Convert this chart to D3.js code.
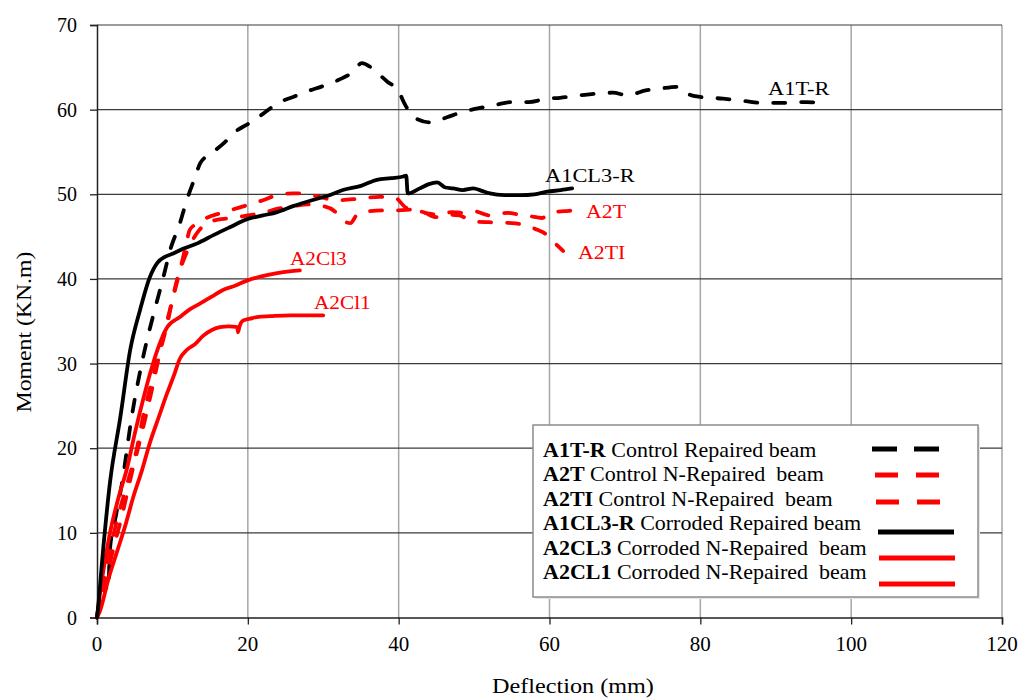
<!DOCTYPE html>
<html>
<head>
<meta charset="utf-8">
<script src="https://cdn.jsdelivr.net/npm/d3@7"></script>
<style>
  body { margin: 0; background: #fff; }
  svg { display: block; font-family: "Liberation Serif", "Times New Roman", serif; }
</style>
</head>
<body>
<svg id="chart" width="1019" height="699"></svg>
<script>
// data
const a1tr_x = [0, 0.5, 0.8, 1.5, 1.7, 2.5, 3.3, 4.6, 6.1, 7.4, 8.8, 9.7, 11, 11.9, 13, 13.7, 15.3, 17, 18.5, 20, 22, 24, 26, 28, 30, 32, 34, 35.1, 36.3, 37.1, 38.5, 39.9, 40.9, 42.2, 44.2, 46.4, 48.4, 50.8, 52.5, 55.2, 57.2, 59.7, 61.4, 64.1, 68.4, 70.3, 72.9, 74.7, 77.1, 78.5, 80, 83, 86, 88, 91, 94, 96];
const a1tr_y = [0, 3, 4, 3.2, 7.9, 12, 15.8, 23.7, 30.7, 35.5, 40.2, 43.4, 46.6, 49.3, 52, 53.7, 54.9, 56.2, 57.5, 58.3, 59.5, 60.8, 61.5, 62.2, 62.8, 63.5, 64.5, 65.5, 65, 64.4, 63.3, 62.3, 60.5, 59.0, 58.5, 59.1, 59.7, 60.2, 60.5, 60.9, 60.9, 61.3, 61.4, 61.7, 62.0, 61.7, 62.3, 62.5, 62.7, 61.8, 61.5, 61.3, 61.0, 60.8, 60.8, 60.9, 60.8];

const a2t_x = [0, 0.6, 1.7, 2.8, 4, 5.3, 6.1, 7, 8, 9, 10, 11, 11.8, 12.3, 13.2, 14.5, 16.5, 18, 19.9, 22, 23.9, 26, 27.3, 29, 31.8, 34.9, 37.5, 39.5, 41, 42.5, 44, 45.5, 47, 48.5, 50, 52, 54.4, 56, 57.5, 59, 59.7, 60.5, 62, 63.7, 64.5];
const a2t_y = [0, 3, 7.9, 12, 15.8, 20, 23.7, 27, 30.5, 34, 37.5, 41, 44, 45.8, 46.5, 47.2, 47.8, 48.2, 48.7, 49.3, 49.9, 50.1, 50.1, 49.8, 49.3, 49.5, 49.7, 49.6, 48.4, 48.1, 47.7, 47.6, 47.9, 47.8, 48.0, 47.5, 47.8, 47.6, 47.4, 47.2, 47.5, 47.9, 48.0, 48.1, 48.1];

const a2ti_x = [0, 0.8, 2, 3.3, 4.6, 6, 7.3, 8.4, 9.4, 10.1, 10.8, 11.6, 12.5, 13.5, 14.6, 16, 18, 20, 22, 24, 26, 28, 30, 31.5, 32.5, 33.6, 34.5, 36, 38, 40, 42, 43.5, 45, 46.5, 48, 50, 52, 55, 57, 58.4, 59.5, 60.3, 61.1, 61.8];
const a2ti_y = [0, 3, 7.5, 12, 17, 22, 27, 31.5, 35, 38, 40.5, 42.5, 44.3, 45.7, 46.6, 47, 47.2, 47.5, 47.8, 48.3, 48.6, 48.8, 48.6, 48, 47, 46.6, 47.6, 48, 48.1, 48.1, 48.2, 47.8, 47.3, 47.6, 47.5, 46.8, 46.7, 46.6, 46.3, 45.8, 45.3, 44.6, 43.9, 43.3];

const a1cl3r_x = [0, 0.1, 0.8, 1.7, 3.1, 4.4, 5.7, 7, 8, 9, 10.1, 11.5, 13.3, 15.5, 17.6, 20, 22, 23.9, 26, 28.5, 30.5, 32.6, 35, 37.1, 39, 40.6, 41, 41.2, 42.8, 44, 45.1, 46.2, 47.2, 48.5, 49.9, 51, 52.1, 54, 56.1, 58, 59.7, 61.5, 63];
const a1cl3r_y = [0, 0.8, 7.9, 15.8, 23.7, 31.6, 36.3, 40.2, 41.9, 42.6, 43, 43.6, 44.2, 45.2, 46.1, 47.1, 47.5, 47.9, 48.6, 49.3, 49.8, 50.5, 51, 51.7, 51.9, 52.1, 52.2, 50.1, 50.7, 51.2, 51.4, 50.8, 50.7, 50.5, 50.7, 50.4, 50.1, 49.9, 49.9, 50, 50.3, 50.5, 50.7];

const a2cl3_x = [0, 0.5, 1.7, 2.8, 4, 5, 6.1, 7, 8, 9.3, 11, 12.3, 13.7, 15.2, 16.7, 18.3, 19.9, 21.8, 23.9, 25.5, 26.9];
const a2cl3_y = [0, 3.5, 9.9, 14, 17.7, 21.7, 25.7, 28.7, 31.6, 34.3, 35.5, 36.4, 37.1, 37.9, 38.7, 39.2, 39.8, 40.3, 40.7, 40.9, 41.0];

const a2cl1_x = [0, 0.4, 1.5, 2.7, 3.8, 4.8, 6, 7, 8.2, 9.3, 10.2, 11, 11.9, 13, 14.1, 15.3, 16.3, 17.5, 18.6, 18.7, 18.9, 19.4, 20.3, 21.2, 23, 25.6, 28, 30];
const a2cl1_y = [0, 0.8, 4.5, 7.9, 11, 14.2, 17.5, 20.6, 23.7, 26.5, 28.6, 30.6, 31.6, 32.3, 33.3, 34, 34.3, 34.4, 34.3, 33.7, 34.4, 35.1, 35.3, 35.5, 35.6, 35.7, 35.7, 35.7];

const x_ticks = [0, 20, 40, 60, 80, 100, 120];
const y_ticks = [0, 10, 20, 30, 40, 50, 60, 70];

const legend_codes = ["A1T-R", "A2T", "A2TI", "A1CL3-R", "A2CL3", "A2CL1"];
const legend_texts = ["Control Repaired beam", "Control N-Repaired  beam", "Control N-Repaired  beam",
    "Corroded Repaired beam", "Corroded N-Repaired  beam", "Corroded N-Repaired  beam"];

const svg = d3.select("#chart");
const m_left = 97, m_right = 1002, m_top = 25, m_bottom = 617.5;

const x = d3.scaleLinear().domain([0, 120]).range([m_left, m_right]);
const y = d3.scaleLinear().domain([0, 70]).range([m_bottom, m_top]);

// text stretched a bit sideways like the original
function stext(g, tx, ty, str, size, sx, color, anchor) {
    return g.append("text")
        .attr("transform", "translate(" + tx + "," + ty + ") scale(" + sx + ",1)")
        .attr("font-size", size)
        .attr("fill", color || "#000")
        .attr("text-anchor", anchor || "start")
        .text(str);
}

// vertical grid (grey)
svg.append("g").selectAll("line")
    .data(x_ticks.slice(1))
    .enter().append("line")
    .attr("x1", d => x(d)).attr("x2", d => x(d))
    .attr("y1", m_top).attr("y2", m_bottom)
    .style("stroke", "#a6a6a6").style("stroke-width", 1.5);

// horizontal grid (dark)
svg.append("g").selectAll("line")
    .data(y_ticks.slice(1))
    .enter().append("line")
    .attr("x1", m_left).attr("x2", m_right)
    .attr("y1", d => y(d)).attr("y2", d => y(d))
    .style("stroke", "#3a3a3a").style("stroke-width", 1.2);

// axes
const xAxis = svg.append("g")
    .attr("transform", "translate(0," + m_bottom + ")")
    .call(d3.axisBottom(x).tickValues(x_ticks).tickSize(7).tickFormat(""));
const yAxis = svg.append("g")
    .attr("transform", "translate(" + m_left + ",0)")
    .call(d3.axisLeft(y).tickValues(y_ticks).tickSize(7).tickFormat(""));
[xAxis, yAxis].forEach(a => {
    a.select(".domain").style("stroke", "#222").style("stroke-width", 1.5);
    a.selectAll(".tick line").style("stroke", "#222").style("stroke-width", 1.3);
});

const labels = svg.append("g");
x_ticks.forEach(v => stext(labels, x(v), m_bottom + 33, v, 20, 1.05, "#000", "middle"));
y_ticks.forEach(v => stext(labels, 77, y(v) + 7, v, 20, 1.0, "#000", "end"));

stext(labels, 573, 693, "Deflection (mm)", 22, 1.1, "#000", "middle");
labels.append("text")
    .attr("transform", "translate(31,332) rotate(-90) scale(1.08,1)")
    .attr("font-size", 22)
    .attr("text-anchor", "middle")
    .text("Moment (KN.m)");

// curves
const line = d3.line()
    .x(d => x(d[0]))
    .y(d => y(d[1]))
    .curve(d3.curveMonotoneX);

function pairs(xs, ys) { return xs.map((v, i) => [v, ys[i]]); }

const series = [
    {pts: pairs(a1tr_x, a1tr_y), color: "#000", dash: "12,16"},
    {pts: pairs(a2t_x, a2t_y), color: "#ff0000", dash: "12,16"},
    {pts: pairs(a2ti_x, a2ti_y), color: "#ff0000", dash: "12,16"},
    {pts: pairs(a2cl3_x, a2cl3_y), color: "#ff0000", dash: null},
    {pts: pairs(a2cl1_x, a2cl1_y), color: "#ff0000", dash: null},
    {pts: pairs(a1cl3r_x, a1cl3r_y), color: "#000", dash: null}
];

svg.append("g").selectAll("path")
    .data(series)
    .enter().append("path")
    .attr("d", d => line(d.pts))
    .attr("fill", "none")
    .style("stroke", d => d.color)
    .style("stroke-width", 3.8)
    .style("stroke-linecap", "round")
    .style("stroke-linejoin", "round")
    .style("stroke-dasharray", d => d.dash);

// curve labels
const cl = svg.append("g");
stext(cl, 768, 95, "A1T-R", 19, 1.18, "#000");
stext(cl, 545, 182, "A1CL3-R", 19, 1.18, "#000");
stext(cl, 586, 218, "A2T", 19, 1.15, "#ff0000");
stext(cl, 578, 259, "A2TI", 19, 1.15, "#ff0000");
stext(cl, 290, 265, "A2Cl3", 19, 1.12, "#ff0000");
stext(cl, 314, 309, "A2Cl1", 19, 1.12, "#ff0000");

// legend
const lg = svg.append("g");
lg.append("rect")
    .attr("x", 535).attr("y", 427).attr("width", 445).attr("height", 172)
    .attr("fill", "#e6e6e6");
lg.append("rect")
    .attr("x", 533).attr("y", 425).attr("width", 445).attr("height", 172)
    .attr("fill", "#fff")
    .style("stroke", "#8c8c8c").style("stroke-width", 1.5);

const legendStyles = [
    {color: "#000", dash: "25,17", x1: 872, x2: 939},
    {color: "#ff0000", dash: "23,18", x1: 875, x2: 941},
    {color: "#ff0000", dash: "23,18", x1: 876, x2: 942},
    {color: "#000", dash: null, x1: 878, x2: 954},
    {color: "#ff0000", dash: null, x1: 879, x2: 955},
    {color: "#ff0000", dash: null, x1: 879, x2: 955}
];
const lineY = [449, 475, 502, 532, 558, 584];
const rowY = [457, 481, 506, 530, 555, 579];

legend_codes.forEach((c, i) => {
    const t = lg.append("text")
        .attr("transform", "translate(543," + rowY[i] + ") scale(1.1,1)")
        .attr("font-size", 20);
    t.append("tspan").attr("font-weight", "bold").text(c);
    t.append("tspan").attr("xml:space", "preserve").text(" " + legend_texts[i]);
    const s = legendStyles[i];
    lg.append("line")
        .attr("x1", s.x1).attr("x2", s.x2)
        .attr("y1", lineY[i]).attr("y2", lineY[i])
        .style("stroke", s.color).style("stroke-width", 5)
        .style("stroke-dasharray", s.dash);
});
</script>
</body>
</html>
